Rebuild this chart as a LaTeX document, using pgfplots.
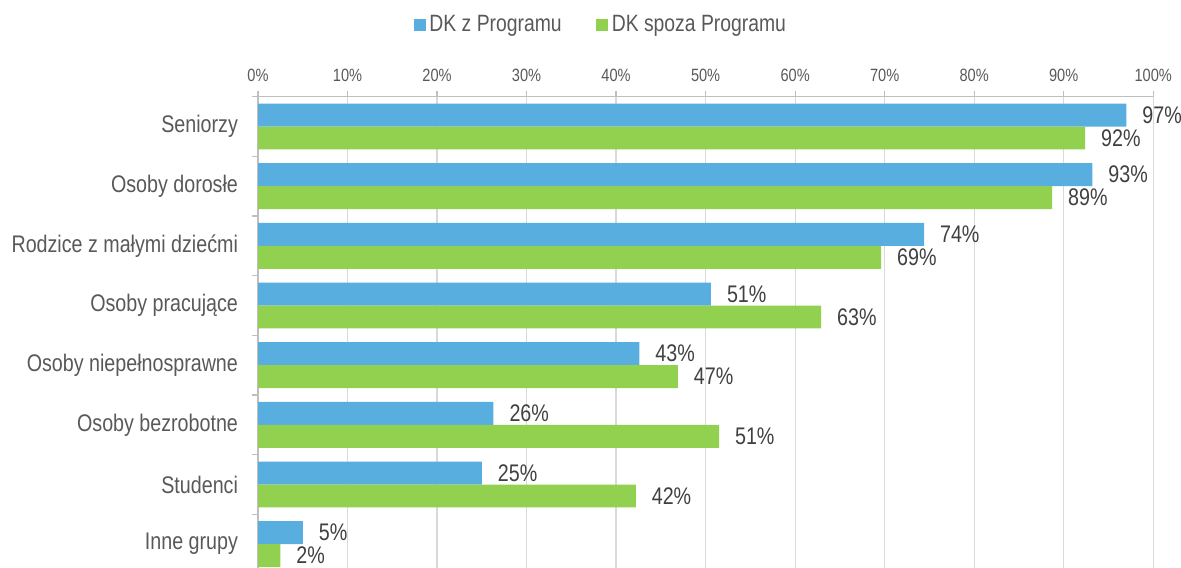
\documentclass[border=0pt]{standalone}
\usepackage{fontspec}
\setmainfont[FakeStretch=0.82]{Liberation Sans}
\usepackage{pgfplots}
\pgfplotsset{compat=1.18}
\definecolor{cblue}{HTML}{57AEDF}
\definecolor{cgreen}{HTML}{92D050}
\definecolor{ctext}{HTML}{595959}
\definecolor{cdata}{HTML}{404040}
\definecolor{cgrid}{HTML}{D9D9D9}
\definecolor{caxis}{HTML}{BFBFBF}
\begin{document}
\begin{tikzpicture}[x=1pt,y=1pt]
\useasboundingbox (0,0) rectangle (590.5,283.5);
\begin{axis}[
  at={(129pt,-3.5pt)}, anchor=south west,
  scale only axis, width=447.6pt, height=238.65pt,
  xbar, bar width=0.385,
  xmin=0, xmax=100, ymin=-0.5, ymax=7.5,
  enlargelimits=false, clip=false,
  axis x line*=top, axis y line*=left,
  axis line style={draw=caxis, line width=0.6pt, -},
  xtick pos=right, xticklabel pos=right,
  ytick pos=left, yticklabel pos=left,
  xtick={0,10,...,100},
  xticklabel={\pgfmathprintnumber{\tick}\%},
  xticklabel style={font=\fontsize{8.9}{10}\selectfont, text=ctext, yshift=1.2pt},
  /pgf/number format/assume math mode=true,
  xmajorgrids, major grid style={draw=cgrid, line width=0.6pt},
  ytick={-0.5,0.5,...,7.5},
  yticklabels={},
  extra y ticks={0,1,2,3,4,5,6,7},
  extra y tick labels={Inne grupy, Studenci, Osoby bezrobotne, Osoby niepełnosprawne, Osoby pracujące, Rodzice z małymi dziećmi, Osoby dorosłe, Seniorzy},
  extra y tick style={tick style={draw=none}, yticklabel style={font=\fontsize{12}{14}\selectfont, text=ctext, xshift=-3.5pt}},
  tick align=outside, major tick length=3pt,
  tick style={draw=caxis, line width=0.6pt},
  point meta=explicit,
  nodes near coords={\pgfmathprintnumber{\pgfplotspointmeta}\%},
  every node near coord/.append style={font=\fontsize{12}{14}\selectfont, text=cdata, anchor=west, xshift=4.5pt},
  legend columns=2,
  legend style={at={(0.384,1.150)}, anchor=center, draw=none, fill=none,
    font=\fontsize{11.8}{13}\selectfont, text=ctext,
    /tikz/every even column/.append style={column sep=15pt}},
  legend image code/.code={\fill[#1] (0pt,-3pt) rectangle (6pt,3pt);},
]
\addplot[fill=cblue, draw=none, bar shift=0.1925] coordinates {
  (97.0,7) [97] (93.2,6) [93] (74.4,5) [74] (50.6,4) [51]
  (42.6,3) [43] (26.3,2) [26] (25.0,1) [25] (5.0,0) [5]};
\addplot[fill=cgreen, draw=none, bar shift=-0.1925] coordinates {
  (92.4,7) [92] (88.7,6) [89] (69.6,5) [69] (62.9,4) [63]
  (46.9,3) [47] (51.5,2) [51] (42.2,1) [42] (2.5,0) [2]};
\legend{DK z Programu, DK spoza Programu}
\end{axis}
\end{tikzpicture}
\end{document}
